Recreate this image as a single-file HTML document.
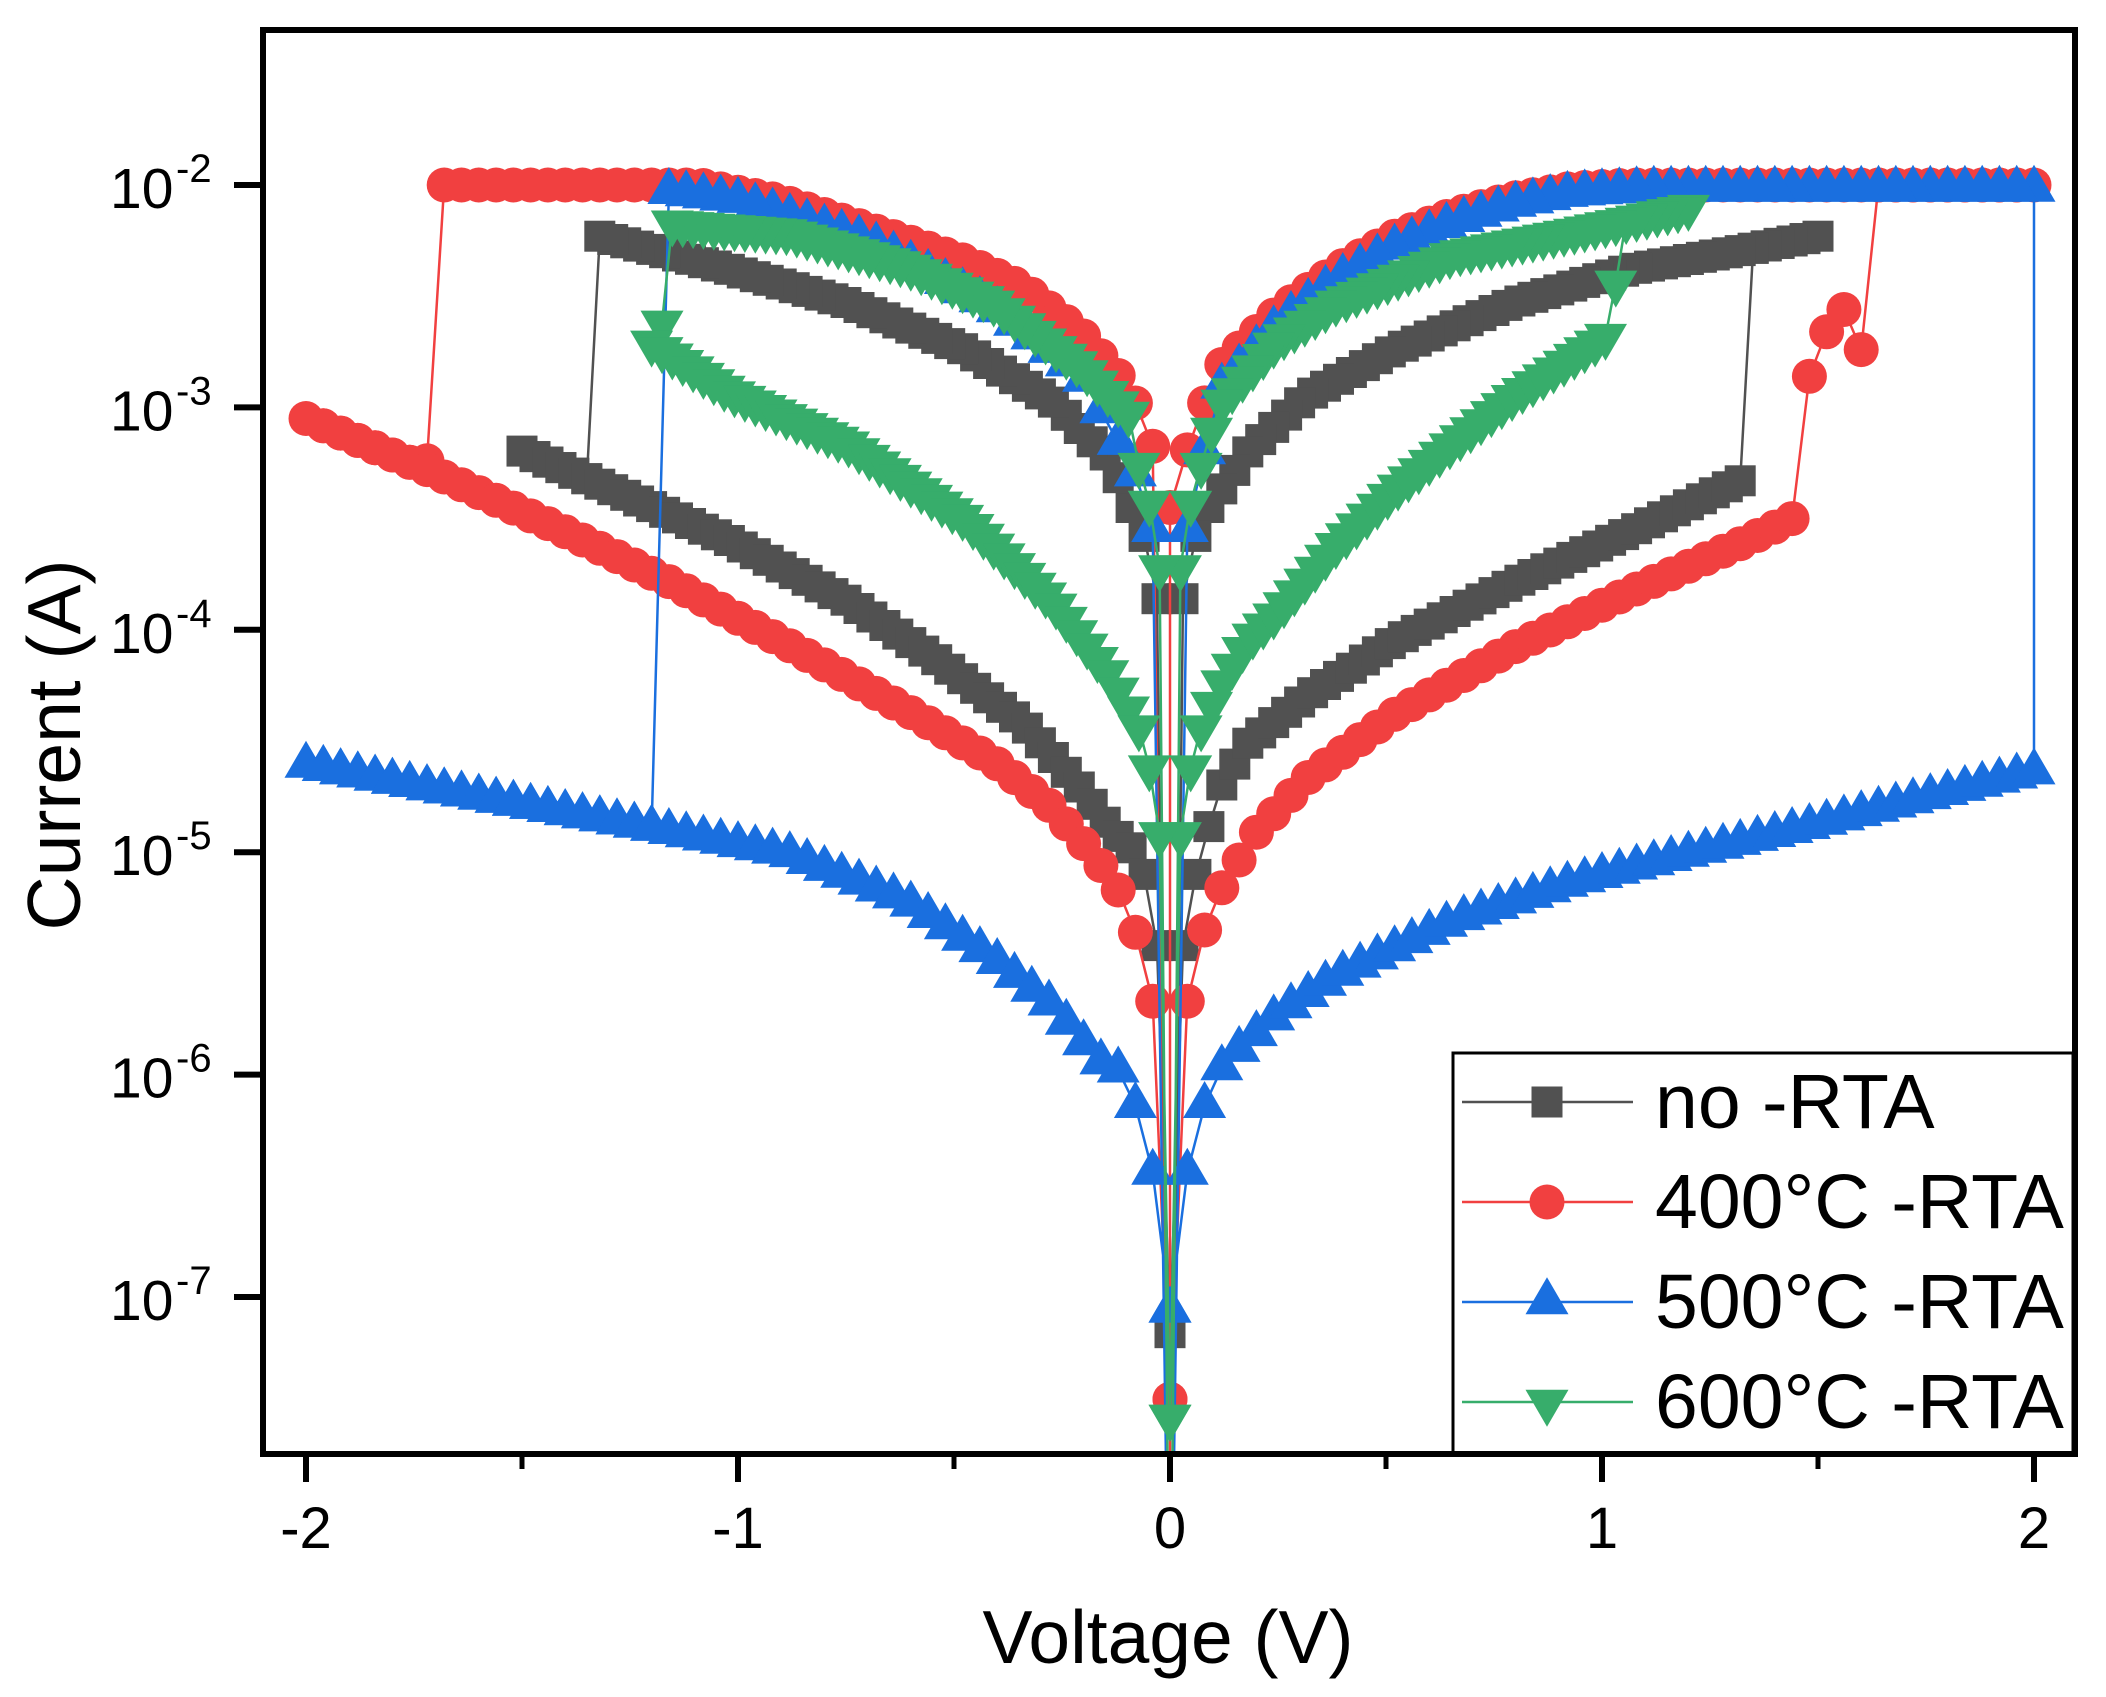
<!DOCTYPE html>
<html><head><meta charset="utf-8">
<style>
html,body{margin:0;padding:0;background:#fff;}
svg{display:block;}
text{font-family:"Liberation Sans",Arial,sans-serif;fill:#000;}
</style></head>
<body>
<svg id="s" width="2106" height="1697" viewBox="0 0 2106 1697" xmlns="http://www.w3.org/2000/svg">
<rect x="0" y="0" width="2106" height="1697" fill="#fff"/>
<defs><clipPath id="cp"><rect x="266" y="33" width="1806" height="1418"/></clipPath></defs>
<g id="data" clip-path="url(#cp)"></g>

<!-- legend -->
<rect x="1453" y="1053" width="620" height="401" fill="#fff" stroke="#000" stroke-width="3"/>
<line x1="1462" y1="1102" x2="1633" y2="1102" stroke="#515151" stroke-width="2.5"/>
<rect x="1531.5" y="1086.5" width="31" height="31" fill="#515151"/>
<line x1="1462" y1="1202" x2="1633" y2="1202" stroke="#F14040" stroke-width="2.5"/>
<circle cx="1547" cy="1202" r="17.5" fill="#F14040"/>
<line x1="1462" y1="1302" x2="1633" y2="1302" stroke="#1A6FDF" stroke-width="2.5"/>
<polygon points="1547,1277.3 1525.5,1314.3 1568.5,1314.3" fill="#1A6FDF"/>
<line x1="1462" y1="1402" x2="1633" y2="1402" stroke="#37AD6B" stroke-width="2.5"/>
<polygon points="1547,1426.7 1525.5,1389.7 1568.5,1389.7" fill="#37AD6B"/>
<text x="1655" y="1128" font-size="77">no -RTA</text>
<text x="1655" y="1228" font-size="77">400°C -RTA</text>
<text x="1655" y="1328" font-size="77">500°C -RTA</text>
<text x="1655" y="1428" font-size="77">600°C -RTA</text>

<!-- frame -->
<rect x="263" y="30" width="1812" height="1424" fill="none" stroke="#000" stroke-width="6"/>

<!-- x ticks -->
<g stroke="#000" stroke-width="6">
<line x1="306" y1="1454" x2="306" y2="1482"/>
<line x1="738" y1="1454" x2="738" y2="1482"/>
<line x1="1170" y1="1454" x2="1170" y2="1482"/>
<line x1="1602" y1="1454" x2="1602" y2="1482"/>
<line x1="2034" y1="1454" x2="2034" y2="1482"/>
</g>
<g stroke="#000" stroke-width="5">
<line x1="522" y1="1454" x2="522" y2="1469"/>
<line x1="954" y1="1454" x2="954" y2="1469"/>
<line x1="1386" y1="1454" x2="1386" y2="1469"/>
<line x1="1818" y1="1454" x2="1818" y2="1469"/>
</g>
<g font-size="58" text-anchor="middle">
<text x="306" y="1548">-2</text>
<text x="738" y="1548">-1</text>
<text x="1170" y="1548">0</text>
<text x="1602" y="1548">1</text>
<text x="2034" y="1548">2</text>
</g>

<!-- y ticks -->
<g stroke="#000" stroke-width="6">
<line x1="234" y1="185" x2="263" y2="185"/>
<line x1="234" y1="407.4" x2="263" y2="407.4"/>
<line x1="234" y1="629.8" x2="263" y2="629.8"/>
<line x1="234" y1="852.2" x2="263" y2="852.2"/>
<line x1="234" y1="1074.6" x2="263" y2="1074.6"/>
<line x1="234" y1="1297" x2="263" y2="1297"/>
</g>
<g font-size="57">
<text x="110" y="208">10</text>
<text x="110" y="430.4">10</text>
<text x="110" y="652.8">10</text>
<text x="110" y="875.2">10</text>
<text x="110" y="1097.6">10</text>
<text x="110" y="1320">10</text>
</g>
<g font-size="40">
<text x="176" y="182">-2</text>
<text x="176" y="404.4">-3</text>
<text x="176" y="626.8">-4</text>
<text x="176" y="849.2">-5</text>
<text x="176" y="1071.6">-6</text>
<text x="176" y="1294">-7</text>
</g>

<!-- axis titles -->
<text x="1168" y="1663" font-size="75" text-anchor="middle">Voltage (V)</text>
<text transform="translate(80,745) rotate(-90)" font-size="75" text-anchor="middle">Current (A)</text>
</svg>

<script>
(function(){
var NS='http://www.w3.org/2000/svg';
function X(v){return 1170+432*v;}
function Y(L){return 185-222.4*(L+2);}
function I(a,v){
  if(v<=a[0][0])return a[0][1];
  for(var i=1;i<a.length;i++){
    if(v<=a[i][0]){var p=a[i-1],q=a[i];return p[1]+(q[1]-p[1])*(v-p[0])/(q[0]-p[0]);}
  }
  return a[a.length-1][1];
}
function R(a,b,s,anc){
  var n=Math.round(Math.abs(b-a)/s),o=[];
  for(var i=0;i<=n;i++){var v=n?a+(b-a)*i/n:a;o.push([v,(typeof anc==='number')?anc:I(anc,v)]);}
  return o;
}
function cat(){var o=[];for(var i=0;i<arguments.length;i++){o=o.concat(arguments[i]);}return o;}

/* ---------- no-RTA (gray, squares), step 0.03 ---------- */
var s=0.03;
var gHp=[[0,-5.6],[0.03,-5.42],[0.06,-5.10],[0.113,-4.72],[0.18,-4.51],[0.316,-4.30],[0.52,-4.05],[0.795,-3.79],[1.064,-3.56],[1.32,-3.33],[1.5,-3.2]];
var gLp=[[0,-4.1],[0.03,-3.86],[0.06,-3.58],[0.09,-3.45],[0.18,-3.20],[0.316,-2.95],[0.52,-2.74],[0.795,-2.53],[1.064,-2.38],[1.335,-2.29],[1.5,-2.23]];
var gLn=[[-1.5,-2.2],[-1.32,-2.23],[-1.018,-2.38],[-0.747,-2.53],[-0.475,-2.74],[-0.273,-2.97],[-0.137,-3.24],[-0.09,-3.45],[-0.06,-3.58],[-0.03,-3.86],[0,-4.1]];
var gHn=[[-1.52,-3.18],[-1.29,-3.37],[-1.018,-3.60],[-0.747,-3.87],[-0.543,-4.13],[-0.34,-4.42],[-0.204,-4.72],[-0.137,-4.90],[-0.09,-4.98],[-0.06,-5.10],[-0.03,-5.42],[0,-5.6]];
var gray=cat([[0,-7.16]],R(0.03,1.32,s,gHp),R(1.35,1.5,s,gLp),R(1.47,0.03,s,gLp),[[0,-9]],
  R(-0.03,-1.32,s,gLn),R(-1.35,-1.5,s,gHn),R(-1.47,-0.03,s,gHn),[[0,-7.16]]);

/* ---------- 400C (red, circles), step 0.04 ---------- */
s=0.04;
var rHp=[[0,-6.0],[0.04,-5.67],[0.08,-5.35],[0.12,-5.16],[0.2,-4.91],[0.316,-4.67],[0.52,-4.38],[0.795,-4.08],[1.064,-3.83],[1.335,-3.60],[1.44,-3.50]];
var rLp=[[0,-3.45],[0.051,-3.12],[0.113,-2.82],[0.248,-2.57],[0.384,-2.38],[0.52,-2.23],[0.656,-2.13],[0.792,-2.06],[0.928,-2.015],[1.06,-2.0],[2.0,-2.0]];
var rLn=[[-2,-2.0],[-1.086,-2.0],[-0.9,-2.07],[-0.747,-2.166],[-0.611,-2.25],[-0.475,-2.34],[-0.34,-2.46],[-0.204,-2.67],[-0.096,-2.91],[-0.048,-3.12],[0,-3.45]];
var rHn=[[-2,-3.05],[-1.695,-3.30],[-1.42,-3.54],[-1.153,-3.79],[-0.882,-4.07],[-0.611,-4.36],[-0.408,-4.59],[-0.273,-4.80],[-0.178,-5.01],[-0.12,-5.17],[-0.08,-5.36],[-0.04,-5.67],[0,-6.0]];
var red=cat([[0,-7.46]],R(0.04,1.44,s,rHp),[[1.48,-2.86],[1.52,-2.66],[1.56,-2.56],[1.60,-2.74]],
  R(1.64,2.0,s,-2.0),R(1.96,0.04,s,rLp),[[0,-3.45],[0,-9]],R(-0.04,-1.68,s,rLn),[[-1.72,-3.24]],
  R(-1.76,-2.0,s,rHn),R(-1.96,-0.04,s,rHn),[[0,-7.46]]);

/* ---------- 500C (blue, up triangles), step 0.04 ---------- */
var bHp=[[0,-7.06],[0.04,-6.44],[0.08,-6.14],[0.12,-5.97],[0.153,-5.90],[0.249,-5.73],[0.384,-5.56],[0.656,-5.31],[0.928,-5.14],[1.2,-5.01],[1.47,-4.89],[1.74,-4.76],[2.0,-4.64]];
var bLp=[[0,-3.65],[0.04,-3.55],[0.08,-3.2],[0.113,-2.92],[0.248,-2.63],[0.384,-2.43],[0.52,-2.28],[0.656,-2.17],[0.792,-2.09],[0.928,-2.04],[1.1,-2.02],[2.0,-2.02]];
var bLn=[[-1.2,-2.02],[-1.0,-2.07],[-0.7,-2.25],[-0.408,-2.55],[-0.204,-2.86],[-0.08,-3.3],[-0.04,-3.55],[0,-3.65]];
var bHn=[[-2,-4.61],[-1.695,-4.72],[-1.208,-4.89],[-0.882,-5.01],[-0.611,-5.22],[-0.408,-5.48],[-0.273,-5.69],[-0.164,-5.94],[-0.12,-5.98],[-0.08,-6.14],[-0.04,-6.44],[0,-7.06]];
var blue=cat([[0,-7.06]],R(0.04,2.0,s,bHp),R(2.0,0.04,s,bLp),[[0,-9]],R(-0.04,-1.16,s,bLn),
  R(-1.20,-2.0,s,bHn),R(-1.96,-0.04,s,bHn),[[0,-7.06]]);

/* ---------- 600C (green, down triangles), step 0.024 ---------- */
s=0.024;
var nHp=[[0,-5.1],[0.024,-4.92],[0.048,-4.62],[0.072,-4.44],[0.113,-4.26],[0.18,-4.05],[0.249,-3.92],[0.384,-3.62],[0.52,-3.37],[0.656,-3.16],[0.795,-2.95],[0.928,-2.78],[1.008,-2.68]];
var nLp=[[0,-4.0],[0.024,-3.72],[0.048,-3.43],[0.072,-3.26],[0.113,-2.99],[0.249,-2.70],[0.384,-2.53],[0.656,-2.31],[0.928,-2.21],[1.2,-2.10]];
var nLn=[[-1.2,-2.17],[-1.152,-2.17],[-0.882,-2.21],[-0.611,-2.36],[-0.408,-2.53],[-0.204,-2.82],[-0.096,-3.03],[-0.072,-3.26],[-0.048,-3.43],[-0.024,-3.72],[0,-4.0]];
var nHn=[[-1.2,-2.71],[-1.018,-2.93],[-0.747,-3.16],[-0.475,-3.50],[-0.273,-3.87],[-0.137,-4.21],[-0.072,-4.44],[-0.048,-4.62],[-0.024,-4.92],[0,-5.1]];
var green=cat([[0,-7.54]],R(0.024,1.008,s,nHp),[[1.032,-2.44]],R(1.056,1.2,s,nLp),R(1.176,0.024,s,nLp),[[0,-9]],
  R(-0.024,-1.152,s,nLn),[[-1.176,-2.62],[-1.2,-2.71]],R(-1.176,-0.024,s,nHn),[[0,-7.54]]);

var g=document.getElementById('data');
function el(t,a){var e=document.createElementNS(NS,t);for(var k in a)e.setAttribute(k,a[k]);g.appendChild(e);return e;}
function draw(pts,color,mk){
  var d='';
  for(var i=0;i<pts.length;i++){d+=(i?'L':'M')+X(pts[i][0]).toFixed(1)+','+Y(pts[i][1]).toFixed(1);}
  el('path',{d:d,fill:'none',stroke:color,'stroke-width':'2.5','stroke-linejoin':'round'});
  for(var j=0;j<pts.length;j++){
    if(pts[j][1]<-7.9)continue;
    var cx=X(pts[j][0]),cy=Y(pts[j][1]);
    if(mk==='sq'){el('rect',{x:(cx-15.5).toFixed(1),y:(cy-15.5).toFixed(1),width:31,height:31,fill:color});}
    else if(mk==='ci'){el('circle',{cx:cx.toFixed(1),cy:cy.toFixed(1),r:17.5,fill:color});}
    else if(mk==='up'){el('polygon',{points:cx.toFixed(1)+','+(cy-24.7).toFixed(1)+' '+(cx-21.5).toFixed(1)+','+(cy+12.3).toFixed(1)+' '+(cx+21.5).toFixed(1)+','+(cy+12.3).toFixed(1),fill:color});}
    else {el('polygon',{points:cx.toFixed(1)+','+(cy+24.7).toFixed(1)+' '+(cx-21.5).toFixed(1)+','+(cy-12.3).toFixed(1)+' '+(cx+21.5).toFixed(1)+','+(cy-12.3).toFixed(1),fill:color});}
  }
}
draw(gray,'#515151','sq');
draw(red,'#F14040','ci');
draw(blue,'#1A6FDF','up');
draw(green,'#37AD6B','dn');
})();
</script>
</body></html>
